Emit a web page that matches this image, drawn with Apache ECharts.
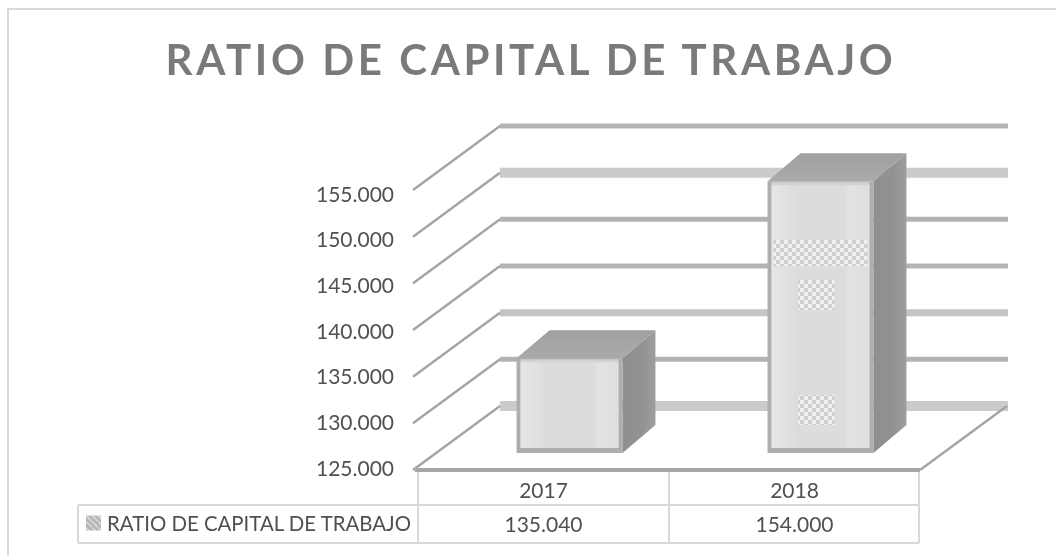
<!DOCTYPE html>
<html>
<head>
<meta charset="utf-8">
<style>
html,body{margin:0;padding:0;background:#fff}
#c{width:1056px;height:556px}
#c svg{filter:blur(0.4px)}
svg text[style*="42px"]{letter-spacing:3.6px}
</style>
<script src="https://cdn.jsdelivr.net/npm/echarts@6/dist/echarts.min.js"></script>
</head>
<body>
<div id="c"></div>
<script>
const titleText = 'RATIO DE CAPITAL DE TRABAJO';
const seriesName = 'RATIO DE CAPITAL DE TRABAJO';
const categories = ['2017', '2018'];
const seriesValues = [135040, 154000];
const valueLabels = ['135.040', '154.000'];
const yTicks = [125000, 130000, 135000, 140000, 145000, 150000, 155000];

const FONT = 'Lato';
const TXT = '#505050';
const DEPTH_X = 87, DEPTH_Y = 64;

function makeCheck() {
  const c = document.createElement('canvas'); c.width = 8; c.height = 8;
  const g = c.getContext('2d');
  g.fillStyle = '#cfcfcf'; g.fillRect(0,0,8,8);
  g.fillStyle = '#f1f1f1'; g.fillRect(0,0,4,4); g.fillRect(4,4,4,4);
  return c;
}
function makeHatch() {
  const c = document.createElement('canvas'); c.width = 6; c.height = 6;
  const g = c.getContext('2d');
  g.fillStyle = '#b4b4b4'; g.fillRect(0,0,6,6);
  g.strokeStyle = '#e2e2e2'; g.lineWidth = 1.4;
  g.beginPath(); g.moveTo(0,0); g.lineTo(6,6); g.stroke();
  return c;
}
const checkFill = {image: makeCheck(), repeat: 'repeat'};
const hatchFill = {image: makeHatch(), repeat: 'repeat'};

function renderWall(params, api) {
  const i = params.dataIndex, v = api.value(0);
  const r = params.coordSys;
  const y = api.coord([0, v])[1];
  const bx = r.x + DEPTH_X - 5, by = y - DEPTH_Y;
  const right = r.x + r.width + DEPTH_X + 1;
  const wide = i === 0 || i === 5;
  const mid = i === 2;
  const children = [
    {type:'line', shape:{x1:bx, y1:by, x2:right, y2:by},
     style:{stroke: wide ? '#cbcbcb' : mid ? '#c4c4c4' : '#b3b3b3', lineWidth: wide ? 10 : mid ? 7 : 5}},
    {type:'line', shape:{x1:r.x - 5, y1:y, x2:bx, y2:by},
     style:{stroke:'#a4a4a4', lineWidth:2.4}}
  ];
  if (i === 0) {
    children.push({type:'line', shape:{x1:r.x + r.width, y1:y, x2:right - 1, y2:by},
      style:{stroke:'#a4a4a4', lineWidth:2.4}});
    children.push({type:'line', shape:{x1:r.x - 3, y1:y, x2:r.x + r.width, y2:y},
      style:{stroke:'#a6a6a6', lineWidth:4}});
  }
  return {type:'group', children};
}

function renderBar(params, api) {
  const i = params.dataIndex, v = api.value(1);
  const band = api.size([1, 0])[0];
  const w = band * 0.422;
  const cx = api.coord([i, v])[0] + 26;
  const top = api.coord([i, v])[1] - 18;
  const bot = api.coord([i, yTicks[0]])[1] - 17;
  const x0 = cx - w / 2, x1 = cx + w / 2;
  const dx = 33, dy = 28;
  const face = {
    type:'linear', x:0, y:0, x2:1, y2:0,
    colorStops:[
      {offset:0, color:'#e6e6e6'},{offset:0.2, color:'#dfdfdf'},
      {offset:0.25, color:'#dcdcdc'},{offset:0.75, color:'#dcdcdc'},
      {offset:0.8, color:'#e3e3e3'},{offset:1, color:'#dedede'}
    ]
  };
  const sideFill = {
    type:'linear', x:0, y:0, x2:1, y2:0,
    colorStops:[{offset:0, color:'#8e8e8e'},{offset:0.6, color:'#929292'},{offset:1, color:'#9e9e9e'}]
  };
  const topFill = {
    type:'linear', x:0, y:0, x2:0, y2:1,
    colorStops:[{offset:0, color:'#a0a0a0'},{offset:1, color:'#aaaaaa'}]
  };
  const children = [
    {type:'polygon', shape:{points:[[x1,top],[x1+dx,top-dy],[x1+dx,bot-dy],[x1,bot]]},
     style:{fill:sideFill}},
    {type:'polygon', shape:{points:[[x0,top],[x0+dx,top-dy],[x1+dx,top-dy],[x1,top]]},
     style:{fill:topFill}},
    {type:'rect', shape:{x:x0, y:top, width:w, height:bot-top}, style:{fill:'#aeaeae'}},
    {type:'rect', shape:{x:x0+4, y:top+1, width:w-8, height:bot-top-6}, style:{fill:'#d2d2d2'}},
    {type:'rect', shape:{x:x0+4, y:top+4, width:w-8, height:bot-top-9}, style:{fill:face}}
  ];
  if (i === 1) {
    children.push(
      {type:'rect', shape:{x:x0+6, y:bot-213, width:w-12, height:26}, style:{fill:checkFill}},
      {type:'rect', shape:{x:x0+31, y:bot-173, width:36, height:30}, style:{fill:checkFill}},
      {type:'rect', shape:{x:x0+31, y:bot-58, width:36, height:30}, style:{fill:checkFill}}
    );
  }
  children.push({type:'text', style:{
    text: valueLabels[i], x: api.coord([i, v])[0], y: 523,
    align:'center', verticalAlign:'middle',
    font:'21px ' + FONT, fill: TXT
  }});
  return {type:'group', children};
}

const chart = echarts.init(document.getElementById('c'), null, {renderer:'svg'});
const tableStroke = {stroke:'#d9d9d9', lineWidth:2};
function seg(x1,y1,x2,y2){ return {type:'line', shape:{x1,y1,x2,y2}, style:tableStroke, silent:true}; }

chart.setOption({
  animation:false,
  backgroundColor:'#ffffff',
  title:{
    text:titleText, left:531, textAlign:'center', top:38, padding:0,
    textStyle:{fontFamily:FONT, fontWeight:'bold', fontSize:42, color:'#7a7a7a'}
  },
  legend:{
    data:[seriesName], left:86, top:513, padding:0, icon:'rect',
    itemWidth:15, itemHeight:15,
    selectedMode:false,
    textStyle:{fontFamily:FONT, fontSize:20.4, color:TXT, padding:[0,0,0,1]}
  },
  grid:[
    {left:418, top:190, width:502, height:280},
    {left:418, top:193, width:502, height:274}
  ],
  xAxis:[
    {type:'category', gridIndex:0, data:categories,
     axisLine:{show:false}, axisTick:{show:false},
     axisLabel:{margin:9, fontFamily:FONT, fontSize:21, color:TXT}},
    {type:'category', gridIndex:1, data:categories, show:false}
  ],
  yAxis:[
    {type:'value', gridIndex:0, min:125000, max:155000, interval:5000,
     axisLine:{show:false}, axisTick:{show:false}, splitLine:{show:false}, axisLabel:{show:false}},
    {type:'value', gridIndex:1, min:125000, max:155000, interval:5000,
     axisLine:{show:false}, axisTick:{show:false}, splitLine:{show:false},
     axisLabel:{margin:24, fontFamily:FONT, fontSize:21, color:TXT,
       formatter:v => String(v).replace(/(\d{3})$/, '.$1')}}
  ],
  graphic:{elements:[
    {type:'rect', shape:{x:8, y:9, width:1080, height:600}, style:{fill:'none', stroke:'#d9d9d9', lineWidth:2}, silent:true, z:-1},
    seg(78,505,919,505), seg(78,543,919,543), seg(78,505,78,543),
    seg(418,470,418,543), seg(669,470,669,543), seg(919,470,919,543)
  ]},
  series:[
    {type:'custom', name:'walls', xAxisIndex:0, yAxisIndex:0, silent:true, z:1, clip:false,
     data:yTicks.map(v=>[v]), encode:{y:0}, renderItem:renderWall},
    {type:'custom', name:seriesName, xAxisIndex:0, yAxisIndex:0, silent:true, z:2, clip:false,
     itemStyle:{color:hatchFill},
     data:seriesValues.map((v,i)=>[i,v]), encode:{x:0,y:1}, renderItem:renderBar}
  ]
});
</script>
</body>
</html>
